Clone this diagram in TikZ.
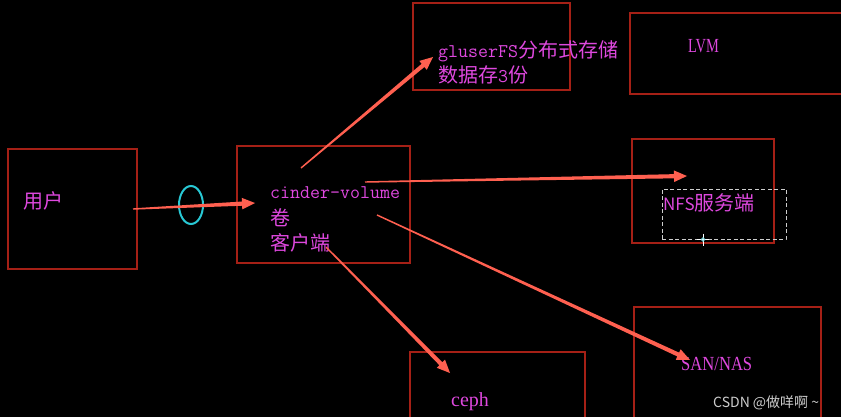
\documentclass[tikz,border=0pt]{standalone}
\usepackage{fontspec}
\usepackage{graphicx}
\usetikzlibrary{calc,shapes.geometric}
\setmainfont{Liberation Serif}
\newfontfamily\cjk{Noto Sans CJK SC}
\definecolor{bg}{RGB}{0,0,0}
\definecolor{boxc}{RGB}{165,32,22}
\definecolor{magt}{RGB}{222,72,222}
\definecolor{arrc}{RGB}{255,96,80}
\definecolor{ringc}{RGB}{40,200,212}
\definecolor{dashc}{RGB}{205,205,205}
\newcommand\mo[1]{{\ttfamily\fontsize{19.4}{22}\selectfont #1}}
\newcommand\cj[1]{{\cjk\fontsize{20}{24}\selectfont #1}}
\newcommand\tarrow[2]{%
  \path ($(#2)!13pt!(#1)$) coordinate (neckE);
  \fill[arrc] ($(#1)!0.7pt!90:(neckE)$) -- ($(neckE)!2.1pt!-90:(#1)$)
    -- ($(neckE)!5.8pt!-90:(#1)$) -- (#2) -- ($(neckE)!5.8pt!90:(#1)$)
    -- ($(neckE)!2.1pt!90:(#1)$) -- ($(#1)!0.7pt!-90:(neckE)$) -- cycle;}
\tikzset{
  box/.style={draw=boxc, line width=2pt, inner sep=0pt, outer sep=0pt},
  txt/.style={anchor=base west, inner sep=0pt, text=magt},
}
\begin{document}
\begin{tikzpicture}[x=1pt,y=-1pt]
\useasboundingbox (0,0) rectangle (841,417);
\fill[bg] (0,0) rectangle (841,417);
\clip (0,0) rectangle (841,417);
% boxes
\node[box, minimum width=129, minimum height=120] (user) at (72,209) {};
\node[box, minimum width=173, minimum height=117] (cinder) at (323.5,204.5) {};
\node[box, minimum width=157, minimum height=87] (gluster) at (491.5,46.5) {};
\node[box, minimum width=220, minimum height=81] (lvm) at (740,53.5) {};
\node[box, minimum width=142, minimum height=104] (nfs) at (702.5,191) {};
\node[box, minimum width=187, minimum height=112] (san) at (727,363) {};
\node[box, minimum width=175, minimum height=80] (ceph) at (497.5,392) {};
\node[draw=dashc, dashed, dash pattern=on 4pt off 2.5pt, line width=0.8pt, inner sep=0pt,
      minimum width=124, minimum height=50] (sel) at (724,214) {};
% texts
\node[txt] (tuser) at (23,208) {\cj{用户}};
\node[txt] (tc1) at (270,199) {\mo{cinder-volume}};
\node[txt] (tc2) at (270,225) {\cj{卷}};
\node[txt] (tc3) at (270,250) {\cj{客户端}};
\node[txt] (tg1) at (438,57.5) {\mo{gluserFS}\cj{分布式存储}};
\node[txt] (tg2) at (438,82.5) {\cj{数据存}\mo{3}\cj{份}};
\node[txt] (tlvm) at (688,52.7) {\fontsize{20}{24}\selectfont\scalebox{0.72}[1]{LVM}};
\node[txt] (tnfs) at (663,210) {{\cjk\fontsize{17}{20}\selectfont NFS}\cj{服务端}};
\node[txt] (tsan) at (681,370) {\fontsize{20}{24}\selectfont\scalebox{0.83}[1]{SAN/NAS}};
\node[txt] (tceph) at (451,406) {\fontsize{20}{24}\selectfont ceph};
\node[anchor=base west, inner sep=0pt, text=dashc] (wm) at (713,407)
  {\cjk\fontsize{14}{16}\selectfont CSDN @做咩啊 \textasciitilde};
% ring
\node[draw=ringc, line width=2pt, ellipse, inner sep=0pt, minimum width=24, minimum height=38] (ring) at (191,205) {};
% cursor
\coordinate (cur) at (703,239.5);
\draw[white, line width=1pt] ($(cur)+(-6,0)$) -- ($(cur)+(6,0)$) ($(cur)+(0,-6)$) -- ($(cur)+(0,6)$);
\draw[ringc!60!white, line width=0.8pt] (cur) circle (1.8pt);
% arrow anchors
\coordinate (s1) at (133,209);  \coordinate (e1) at (255,203);
\coordinate (s2) at (301,168);  \coordinate (e2) at (433,57);
\coordinate (s3) at (365,182);  \coordinate (e3) at (687,176);
\coordinate (s4) at (377,215);  \coordinate (e4) at (690,360);
\coordinate (s5) at (326,247);  \coordinate (e5) at (450,373);
\tarrow{s1}{e1}
\tarrow{s2}{e2}
\tarrow{s3}{e3}
\tarrow{s4}{e4}
\tarrow{s5}{e5}
\end{tikzpicture}
\end{document}
